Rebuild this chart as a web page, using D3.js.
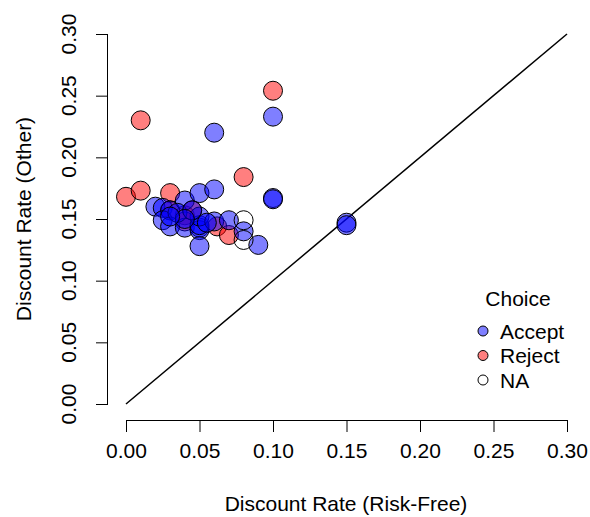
<!DOCTYPE html>
<meta charset="utf-8">
<style>
    body { margin: 0; background: #fff; }
    text { font-family: "Liberation Sans", Arial, sans-serif; fill: #000; }
    .axis path, .axis line { stroke: #000; }
</style>
<svg width="590" height="517"></svg>
<script src="https://d3js.org/d3.v7.min.js"></script>
<script>

    // values
    var ticks = [0, 0.05, 0.10, 0.15, 0.20, 0.25, 0.30];

    var rejectX = [0.00, 0.01, 0.03, 0.01, 0.10, 0.08, 0.03, 0.04, 0.045, 0.062, 0.07, 0.04];
    var rejectY = [0.168, 0.173, 0.171, 0.230, 0.254, 0.184, 0.157, 0.153, 0.157, 0.144, 0.137, 0.148];

    var acceptX = [0.02, 0.025, 0.03, 0.04, 0.05, 0.06, 0.025, 0.03, 0.04, 0.05, 0.05, 0.05, 0.05,
                   0.05, 0.06, 0.07, 0.08, 0.09, 0.10, 0.10, 0.15, 0.15, 0.10, 0.06, 0.035, 0.045,
                   0.04, 0.03, 0.055];
    var acceptY = [0.160, 0.159, 0.157, 0.165, 0.171, 0.174, 0.149, 0.144, 0.143, 0.143, 0.141, 0.145, 0.152,
                   0.128, 0.148, 0.149, 0.140, 0.129, 0.167, 0.166, 0.147, 0.145, 0.233, 0.220, 0.155, 0.157,
                   0.150, 0.152, 0.147];

    var naX = [0.08, 0.08];
    var naY = [0.149, 0.133];

    var choices = ["Accept", "Reject", "NA"];
    var fills = { Accept: "rgba(0,0,255,0.5)", Reject: "rgba(255,0,0,0.5)", NA: "none" };

    var fs = "21px";

    var svg = d3.select("svg");

    var x = d3.scaleLinear().domain([0, 0.30]).range([126, 567]);
    var y = d3.scaleLinear().domain([0, 0.30]).range([404, 34]);

    var points = [];
    rejectX.forEach(function(v, i) { points.push({ x: v, y: rejectY[i], c: "Reject" }); });
    acceptX.forEach(function(v, i) { points.push({ x: v, y: acceptY[i], c: "Accept" }); });
    naX.forEach(function(v, i) { points.push({ x: v, y: naY[i], c: "NA" }); });

    // x axis
    var xAxis = svg.append("g")
            .attr("class", "axis")
            .attr("transform", "translate(0,420)")
            .call(d3.axisBottom(x).tickValues(ticks).tickFormat(d3.format(".2f")).tickSizeOuter(0).tickSize(12));
    xAxis.select(".domain").attr("d", "M" + x(0) + ",0.5H" + x(0.30));
    xAxis.selectAll("text")
            .style("font-size", fs)
            .attr("dy", null)
            .attr("y", 37.5);

    // y axis
    var yAxis = svg.append("g")
            .attr("class", "axis")
            .attr("transform", "translate(108,0)")
            .call(d3.axisLeft(y).tickValues(ticks).tickFormat(d3.format(".2f")).tickSizeOuter(0).tickSize(12));
    yAxis.select(".domain").attr("d", "M-0.5," + y(0) + "V" + y(0.30));
    yAxis.selectAll("text")
            .style("font-size", fs)
            .attr("text-anchor", "middle")
            .attr("x", null)
            .attr("dy", null)
            .attr("y", 0)
            .attr("transform", function(d) { return "translate(-32.5," + y(d) + ") rotate(-90)"; });
    yAxis.selectAll(".tick").attr("transform", null);
    yAxis.selectAll(".tick line").attr("transform", function(d) { return "translate(0," + (y(d) + 0.5) + ")"; });

    // axis titles
    svg.append("text")
            .attr("x", 346).attr("y", 511)
            .attr("text-anchor", "middle")
            .style("font-size", fs)
            .text("Discount Rate (Risk-Free)");
    svg.append("text")
            .attr("transform", "translate(30.5,219) rotate(-90)")
            .attr("text-anchor", "middle")
            .style("font-size", fs)
            .text("Discount Rate (Other)");

    // 45 degree line
    svg.append("line")
            .attr("x1", x(0)).attr("y1", y(0))
            .attr("x2", x(0.30)).attr("y2", y(0.30))
            .attr("stroke", "#000").attr("stroke-width", 1.5);

    svg.append("g").selectAll("circle")
            .data(points)
            .enter().append("circle")
            .attr("cx", function(d) { return x(d.x); })
            .attr("cy", function(d) { return y(d.y); })
            .attr("r", 9.5)
            .attr("fill", function(d) { return fills[d.c]; })
            .attr("stroke", "#000")
            .attr("stroke-width", 1);

    // legend
    var legend = svg.append("g");
    legend.append("text")
            .attr("x", 518).attr("y", 305.5)
            .attr("text-anchor", "middle")
            .style("font-size", fs)
            .text("Choice");
    var item = legend.selectAll(".item")
            .data(choices)
            .enter().append("g")
            .attr("transform", function(d, i) { return "translate(483," + (331 + i * 24.5) + ")"; });
    item.append("circle")
            .attr("r", 5)
            .attr("fill", function(d) { return fills[d]; })
            .attr("stroke", "#000");
    item.append("text")
            .attr("x", 17).attr("y", 7.5)
            .style("font-size", fs)
            .text(function(d) { return d; });

</script>
